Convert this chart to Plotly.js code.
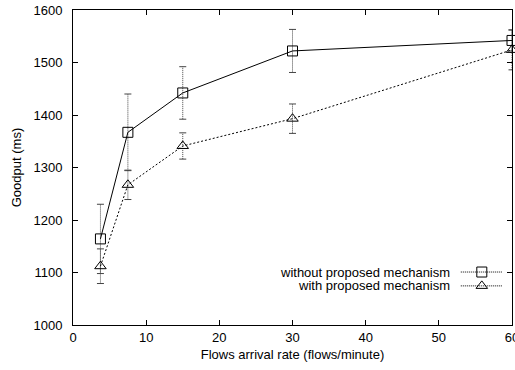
<!DOCTYPE html>
<html>
<head>
<meta charset="utf-8">
<script src="https://cdn.plot.ly/plotly-3.0.1.min.js"></script>
<style>html,body{margin:0;padding:0;background:#fff;}#chart{width:515px;height:370px;}</style>
</head>
<body>
<div id="chart"></div>
<script>
// Data
const xRates = [3.75, 7.5, 15, 30, 60];
const withoutGoodput = [1164, 1367, 1442, 1522, 1542];
const withoutErr = [66, 73, 50, 41, 20];
const withGoodput = [1112, 1267, 1341, 1393, 1524];
const withErr = [33, 28, 25, 28, 38];
const seriesNames = ['without proposed mechanism', 'with proposed mechanism'];
const xTicks = [0, 10, 20, 30, 40, 50, 60];
const yTicks = [1000, 1100, 1200, 1300, 1400, 1500, 1600];

const FONT = 'Liberation Sans, Arial, sans-serif';

function errorSegments(xs, ys, es) {
  const ex = [], ey = [];
  xs.forEach((x, i) => { ex.push(x, x, null); ey.push(ys[i] - es[i], ys[i] + es[i], null); });
  return {ex, ey};
}
function errorCaps(xs, ys, es) {
  const cx = [], cy = [];
  xs.forEach((x, i) => { cx.push(x, x); cy.push(ys[i] - es[i], ys[i] + es[i]); });
  return {cx, cy};
}

const traces = [];
[[withoutGoodput, withoutErr, 'solid', 'square-open', 'legend'],
 [withGoodput, withErr, '2px,2px', 'triangle-up-open', 'legend2']].forEach(([ys, es, dash, sym, leg], k) => {
  const s = errorSegments(xRates, ys, es);
  const c = errorCaps(xRates, ys, es);
  traces.push({x: s.ex, y: s.ey, mode: 'lines', line: {color: '#444', width: 1, dash: '1px,1px'},
    showlegend: false, hoverinfo: 'skip'});
  traces.push({x: c.cx, y: c.cy, mode: 'markers', marker: {symbol: 'line-ew', size: 5, line: {color: '#444', width: 1}},
    showlegend: false, hoverinfo: 'skip'});
  traces.push({x: xRates, y: ys, mode: 'lines+markers', name: seriesNames[k],
    line: {color: '#000', width: 1, dash: dash},
    marker: {symbol: sym, size: 10, color: '#000', line: {color: '#000', width: 1}},
    showlegend: false, cliponaxis: false});
  // legend sample (its text is drawn by an annotation on the left)
  traces.push({x: [null], y: [null], mode: 'lines+markers', name: ' ', legend: leg,
    line: {color: '#000', width: 1, dash: '1px,1px'},
    marker: {symbol: sym, size: 10, color: '#000', line: {color: '#000', width: 1}},
    showlegend: true});
});

const layout = {
  width: 515, height: 370,
  margin: {l: 73, r: 3, t: 10, b: 45, autoexpand: false},
  paper_bgcolor: '#fff', plot_bgcolor: '#fff',
  font: {family: FONT, size: 13, color: '#000'},
  showlegend: true,
  xaxis: {
    range: [0, 60], tickvals: xTicks, ticktext: xTicks.map(String),
    ticks: 'inside', ticklen: 5, tickcolor: '#000', tickwidth: 1,
    showline: true, linecolor: '#000', linewidth: 1, mirror: 'ticks',
    showgrid: false, zeroline: false, ticklabeloverflow: 'allow', automargin: false,
    tickfont: {family: FONT, size: 13},
    title: {text: 'Flows arrival rate (flows/minute)', font: {family: FONT, size: 13}, standoff: 6}
  },
  yaxis: {
    range: [1000, 1600], tickvals: yTicks, ticktext: yTicks.map(String),
    ticks: 'inside', ticklen: 5, tickcolor: '#000', tickwidth: 1,
    showline: true, linecolor: '#000', linewidth: 1, mirror: 'ticks',
    showgrid: false, zeroline: false, ticklabelstandoff: 7, automargin: false,
    tickfont: {family: FONT, size: 13},
    title: {text: 'Goodput (ms)', font: {family: FONT, size: 13}, standoff: 8}
  },
  legend: {x: 0.872, y: 0.168, xanchor: 'left', yanchor: 'middle', bgcolor: 'rgba(0,0,0,0)', font: {size: 13}, itemwidth: 42},
  legend2: {x: 0.872, y: 0.124, xanchor: 'left', yanchor: 'middle', bgcolor: 'rgba(0,0,0,0)', font: {size: 13}, itemwidth: 42},
  annotations: [
    {xref: 'paper', yref: 'paper', x: 0.8633, y: 0.168, xanchor: 'right', yanchor: 'middle', text: seriesNames[0], showarrow: false, font: {family: FONT, size: 13}},
    {xref: 'paper', yref: 'paper', x: 0.8633, y: 0.124, xanchor: 'right', yanchor: 'middle', text: seriesNames[1], showarrow: false, font: {family: FONT, size: 13}}
  ]
};

Plotly.newPlot('chart', traces, layout, {displayModeBar: false, staticPlot: true});
</script>
</body>
</html>
